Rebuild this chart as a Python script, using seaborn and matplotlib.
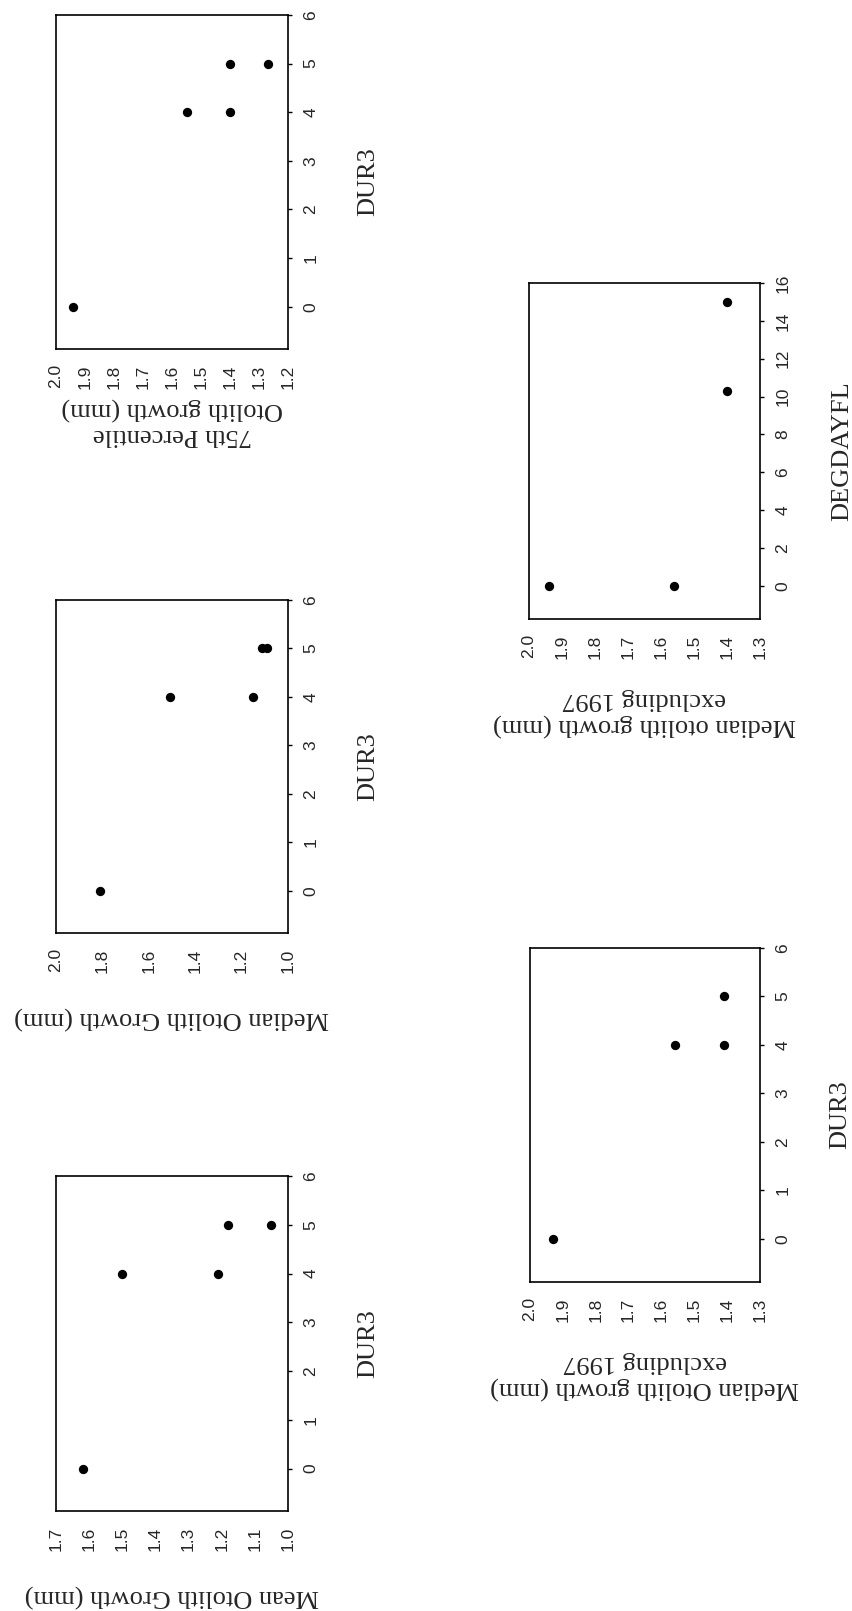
import matplotlib
matplotlib.use("Agg")
import matplotlib.pyplot as plt
import seaborn as sns
import numpy as np

# ---- data ----
dur3_p75 = [0, 4, 4, 5, 5]
growth_p75 = [1.94, 1.55, 1.40, 1.40, 1.27]

dur3_median = [0, 4, 4, 5, 5]
growth_median = [1.81, 1.51, 1.15, 1.11, 1.09]

dur3_mean = [0, 4, 4, 5, 5]
growth_mean = [1.62, 1.50, 1.21, 1.18, 1.05]

degdayfl_ex97 = [0, 0, 10.3, 15]
growth_ex97_deg = [1.94, 1.56, 1.40, 1.40]

dur3_ex97 = [0, 4, 4, 5]
growth_ex97_dur = [1.93, 1.56, 1.41, 1.41]

ticks_p75 = [2.0, 1.9, 1.8, 1.7, 1.6, 1.5, 1.4, 1.3, 1.2]
ticks_median = [2.0, 1.8, 1.6, 1.4, 1.2, 1.0]
ticks_mean = [1.7, 1.6, 1.5, 1.4, 1.3, 1.2, 1.1, 1.0]
ticks_ex97 = [2.0, 1.9, 1.8, 1.7, 1.6, 1.5, 1.4, 1.3]
ticks_dur3 = [0, 1, 2, 3, 4, 5, 6]
ticks_degday = [0, 2, 4, 6, 8, 10, 12, 14, 16]

sns.set_style("white")
plt.rcParams["font.family"] = ["Liberation Sans", "DejaVu Sans"]

W, H = 852, 1611
fig = plt.figure(figsize=(W / 100, H / 100), dpi=100)
fig.patch.set_facecolor("white")

SERIF = ["Liberation Serif", "DejaVu Serif"]
LABEL_FS = 19
TICK_FS = 12.5


def panel(box, gx, dv, gticks, gmax, gmin, vticks, vmin, vmax,
          glabel, vlabel, glabel_off, vlabel_off):
    l, r, t, b = box
    ax = fig.add_axes([l / W, 1 - b / H, (r - l) / W, (b - t) / H])
    sns.scatterplot(x=gx, y=dv, ax=ax, color="black", s=45,
                    linewidth=0, legend=False)
    ax.set_xlim(gmax, gmin)
    ax.set_ylim(vmin, vmax)
    ax.set_xticks(gticks)
    ax.set_xticklabels([f"{v:.1f}" for v in gticks])
    ax.yaxis.tick_right()
    ax.set_yticks(vticks)
    ax.set_yticklabels([str(v) for v in vticks])
    for s in ax.spines.values():
        s.set_visible(True)
        s.set_color("black")
        s.set_linewidth(1.2)
    ax.tick_params(axis="both", direction="out", length=3, width=1,
                   color="black", labelsize=TICK_FS, pad=8)
    ax.tick_params(axis="x", labelrotation=90)
    ax.tick_params(axis="y", labelrotation=90, right=True, left=False)
    for lbl in ax.get_yticklabels():
        lbl.set_va("center")
    ax.grid(False)
    ax.set_facecolor("white")

    ax.set_xlabel(glabel, fontsize=LABEL_FS, family=SERIF, rotation=180,
                  multialignment="center")
    ax.xaxis.label.set_va("top")
    ax.xaxis.label.set_ha("center")
    ax.xaxis.set_label_coords(0.5, -glabel_off / (b - t))

    ax.yaxis.set_label_position("right")
    ax.set_ylabel(vlabel, fontsize=LABEL_FS, family=SERIF, rotation=90)
    ax.yaxis.label.set_rotation_mode("default")
    ax.yaxis.label.set_va("center")
    ax.yaxis.label.set_ha("center")
    ax.yaxis.set_label_coords(1 + vlabel_off / (r - l), 0.5)
    return ax


panel((56, 288, 15, 349), growth_p75, dur3_p75, ticks_p75, 2.0, 1.2,
      ticks_dur3, -0.87, 6, "75th Percentile\nOtolith growth (mm)", "DUR3",
      48, 80)
panel((56, 288, 600, 933), growth_median, dur3_median, ticks_median, 2.0, 1.0,
      ticks_dur3, -0.87, 6, "Median Otolith Growth (mm)", "DUR3", 73, 80)
panel((56, 288, 1176, 1511), growth_mean, dur3_mean, ticks_mean, 1.7, 1.0,
      ticks_dur3, -0.87, 6, "Mean Otolith Growth (mm)", "DUR3", 73, 80)
panel((529, 760, 283, 619), growth_ex97_deg, degdayfl_ex97, ticks_ex97, 2.0, 1.3,
      ticks_degday, -1.75, 16,
      "Median otolith growth (mm)\nexcluding 1997", "DEGDAYFL", 69, 82)
panel((530, 760, 948, 1282), growth_ex97_dur, dur3_ex97, ticks_ex97, 2.0, 1.3,
      ticks_dur3, -0.89, 6,
      "Median Otolith growth (mm)\nexcluding 1997", "DUR3", 69, 80)

fig.savefig("out.png", dpi=100, facecolor="white")
